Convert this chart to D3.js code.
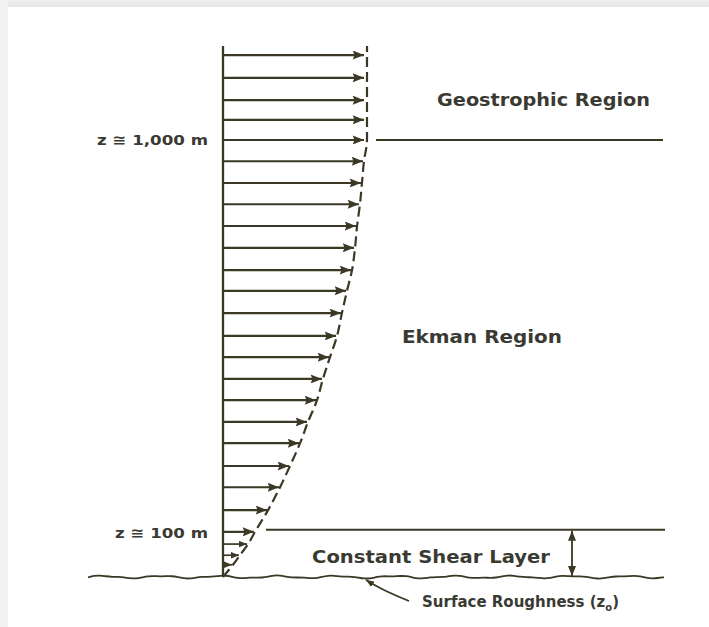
<!DOCTYPE html>
<html><head><meta charset="utf-8">
<script src="https://cdn.jsdelivr.net/npm/d3@7"></script>
<style>
html,body{margin:0;padding:0;background:#fff;}
svg{display:block;}
</style></head>
<body>
<script>
// Heights are in normalized profile units (0 = ground, 100 = top of profile)
const arrowLevels = [98.3,94.0,89.8,86.1,82.3,78.3,74.2,70.2,66.1,62.0,57.8,53.9,49.7,45.4,41.4,37.3,33.3,29.2,25.2,20.9,16.9,12.6,8.5];
const arrowSpeeds = [1,1,1,1,1,0.979,0.965,0.951,0.931,0.917,0.896,0.861,0.826,0.792,0.743,0.694,0.653,0.590,0.535,0.465,0.396,0.313,0.222];
const shearLevels = [6.2,4.1,2.3];
const shearSpeeds = [0.174,0.118,0.069];
const profileLevels = [0,2.3,4.1,6.2,8.5,12.6,16.9,20.9,25.2,29.2,33.3,37.3,41.4,45.4,49.7,53.9,57.8,62.0,66.1,70.2,74.2,78.3,82.3,100];
const profileSpeeds = [0,0.069,0.118,0.174,0.222,0.313,0.396,0.465,0.535,0.590,0.653,0.694,0.743,0.792,0.826,0.861,0.896,0.917,0.931,0.951,0.965,0.979,1,1];
const geoBoundary = 82.3;
const shearBoundary = 8.9;
const heightLabels = ["z \u2245 1,000 m", "z \u2245 100 m"];
const heightLabelLevels = [82.3, 8.3];
const regionLabels = ["Geostrophic Region", "Ekman Region", "Constant Shear Layer"];

const W = 709, H = 627;
const ink = "#3b3826";
const svg = d3.select("body").append("svg").attr("width", W).attr("height", H);

// light frame at top and left
const defs = svg.append("defs");
const gTop = defs.append("linearGradient").attr("id","gt").attr("x1",0).attr("y1",0).attr("x2",0).attr("y2",1);
gTop.append("stop").attr("offset","0%").attr("stop-color","#f0f0f0");
gTop.append("stop").attr("offset","100%").attr("stop-color","#e6e6e6");
svg.append("rect").attr("x",0).attr("y",0).attr("width",W).attr("height",7).attr("fill","url(#gt)");
svg.append("rect").attr("x",0).attr("y",0).attr("width",8).attr("height",H).attr("fill","#f1f1f1");

defs.append("marker").attr("id","ah").attr("viewBox","0 0 10 8").attr("refX",10).attr("refY",4)
  .attr("markerWidth",13).attr("markerHeight",9).attr("markerUnits","userSpaceOnUse").attr("orient","auto")
  .append("path").attr("d","M0,0L10,4L0,8L1.5,4Z").attr("fill",ink);
defs.append("marker").attr("id","ahs").attr("viewBox","0 0 10 8").attr("refX",10).attr("refY",4)
  .attr("markerWidth",8).attr("markerHeight",7).attr("markerUnits","userSpaceOnUse").attr("orient","auto")
  .append("path").attr("d","M0,0L10,4L0,8Z").attr("fill",ink);
defs.append("marker").attr("id","ahv").attr("viewBox","0 0 10 8").attr("refX",10).attr("refY",4)
  .attr("markerWidth",10).attr("markerHeight",8).attr("markerUnits","userSpaceOnUse").attr("orient","auto-start-reverse")
  .append("path").attr("d","M0,0L10,4L0,8Z").attr("fill",ink);

const y = d3.scaleLinear().domain([0,100]).range([577,46]);
const x = d3.scaleLinear().domain([0,1]).range([223,367]);

// vertical axis
svg.append("line").attr("x1",x(0)).attr("x2",x(0)).attr("y1",y(100)).attr("y2",y(0))
  .attr("stroke",ink).attr("stroke-width",2.3);

// arrows
svg.append("g").selectAll("line").data(arrowLevels).join("line")
  .attr("x1",x(0)).attr("x2",(d,i)=>x(arrowSpeeds[i]) - (arrowSpeeds[i] >= 1 ? 3 : 1))
  .attr("y1",d=>y(d)).attr("y2",d=>y(d))
  .attr("stroke",ink).attr("stroke-width",2.2).attr("marker-end","url(#ah)");

svg.append("g").selectAll("line").data(shearLevels).join("line")
  .attr("x1",x(0)).attr("x2",(d,i)=>x(shearSpeeds[i]) - 1)
  .attr("y1",d=>y(d)).attr("y2",d=>y(d))
  .attr("stroke",ink).attr("stroke-width",1.7).attr("marker-end","url(#ahs)");

// velocity profile
const prof = profileLevels.map((h,i)=>[profileSpeeds[i],h]);
svg.append("path").datum(prof)
  .attr("d", d3.line().x(d=>x(d[0])).y(d=>y(d[1])).curve(d3.curveMonotoneY))
  .attr("fill","none").attr("stroke",ink).attr("stroke-width",2.2).attr("stroke-dasharray","10,5");

// boundary lines
svg.append("line").attr("x1",376).attr("x2",663).attr("y1",y(geoBoundary)).attr("y2",y(geoBoundary))
  .attr("stroke",ink).attr("stroke-width",2);
svg.append("line").attr("x1",266).attr("x2",665).attr("y1",y(shearBoundary)).attr("y2",y(shearBoundary))
  .attr("stroke",ink).attr("stroke-width",2);

// wavy ground
const groundPts = d3.range(88, 668, 6).map((px,i)=>[px, y(0) + Math.sin(px/9.3)*1.2 + Math.sin(px/4.1)*0.6]);
svg.append("path").datum(groundPts).attr("d", d3.line().curve(d3.curveBasis))
  .attr("fill","none").attr("stroke",ink).attr("stroke-width",1.8);

// double arrow for shear layer thickness
svg.append("line").attr("x1",572).attr("x2",572).attr("y1",y(shearBoundary)+1).attr("y2",y(0)-1)
  .attr("stroke",ink).attr("stroke-width",1.8)
  .attr("marker-start","url(#ahv)").attr("marker-end","url(#ahv)");

// roughness leader arrow
svg.append("path").attr("d","M409,601 Q392,594 384,590 Q374,585 366,580")
  .attr("fill","none").attr("stroke",ink).attr("stroke-width",1.8).attr("marker-end","url(#ahs)");

// text
const font = "'DejaVu Sans', sans-serif";
function label(t, px, py, size, len, weight){
  svg.append("text").attr("x",px).attr("y",py).text(t)
    .attr("font-family",font).attr("font-size",size).attr("font-weight",weight||"bold")
    .attr("fill","#3a3a33").attr("textLength",len).attr("lengthAdjust","spacingAndGlyphs");
}
label(regionLabels[0], 437, 106, 17, 213);
label(regionLabels[1], 402, 343, 17, 160);
label(regionLabels[2], 312, 563, 18, 238);
// Surface roughness with subscript
const sr = svg.append("text").attr("x",422).attr("y",607).attr("font-family",font).attr("font-size",15)
  .attr("font-weight","bold").attr("fill","#3a3a33");
sr.append("tspan").text("Surface Roughness (z");
sr.append("tspan").text("o").attr("font-size",10).attr("dy",4);
sr.append("tspan").text(")").attr("dy",-4);

label(heightLabels[0], 97, y(heightLabelLevels[0]) + 5, 14, 111, "600");
label(heightLabels[1], 115, y(heightLabelLevels[1]) + 5, 14, 93, "600");
</script>
</body></html>
